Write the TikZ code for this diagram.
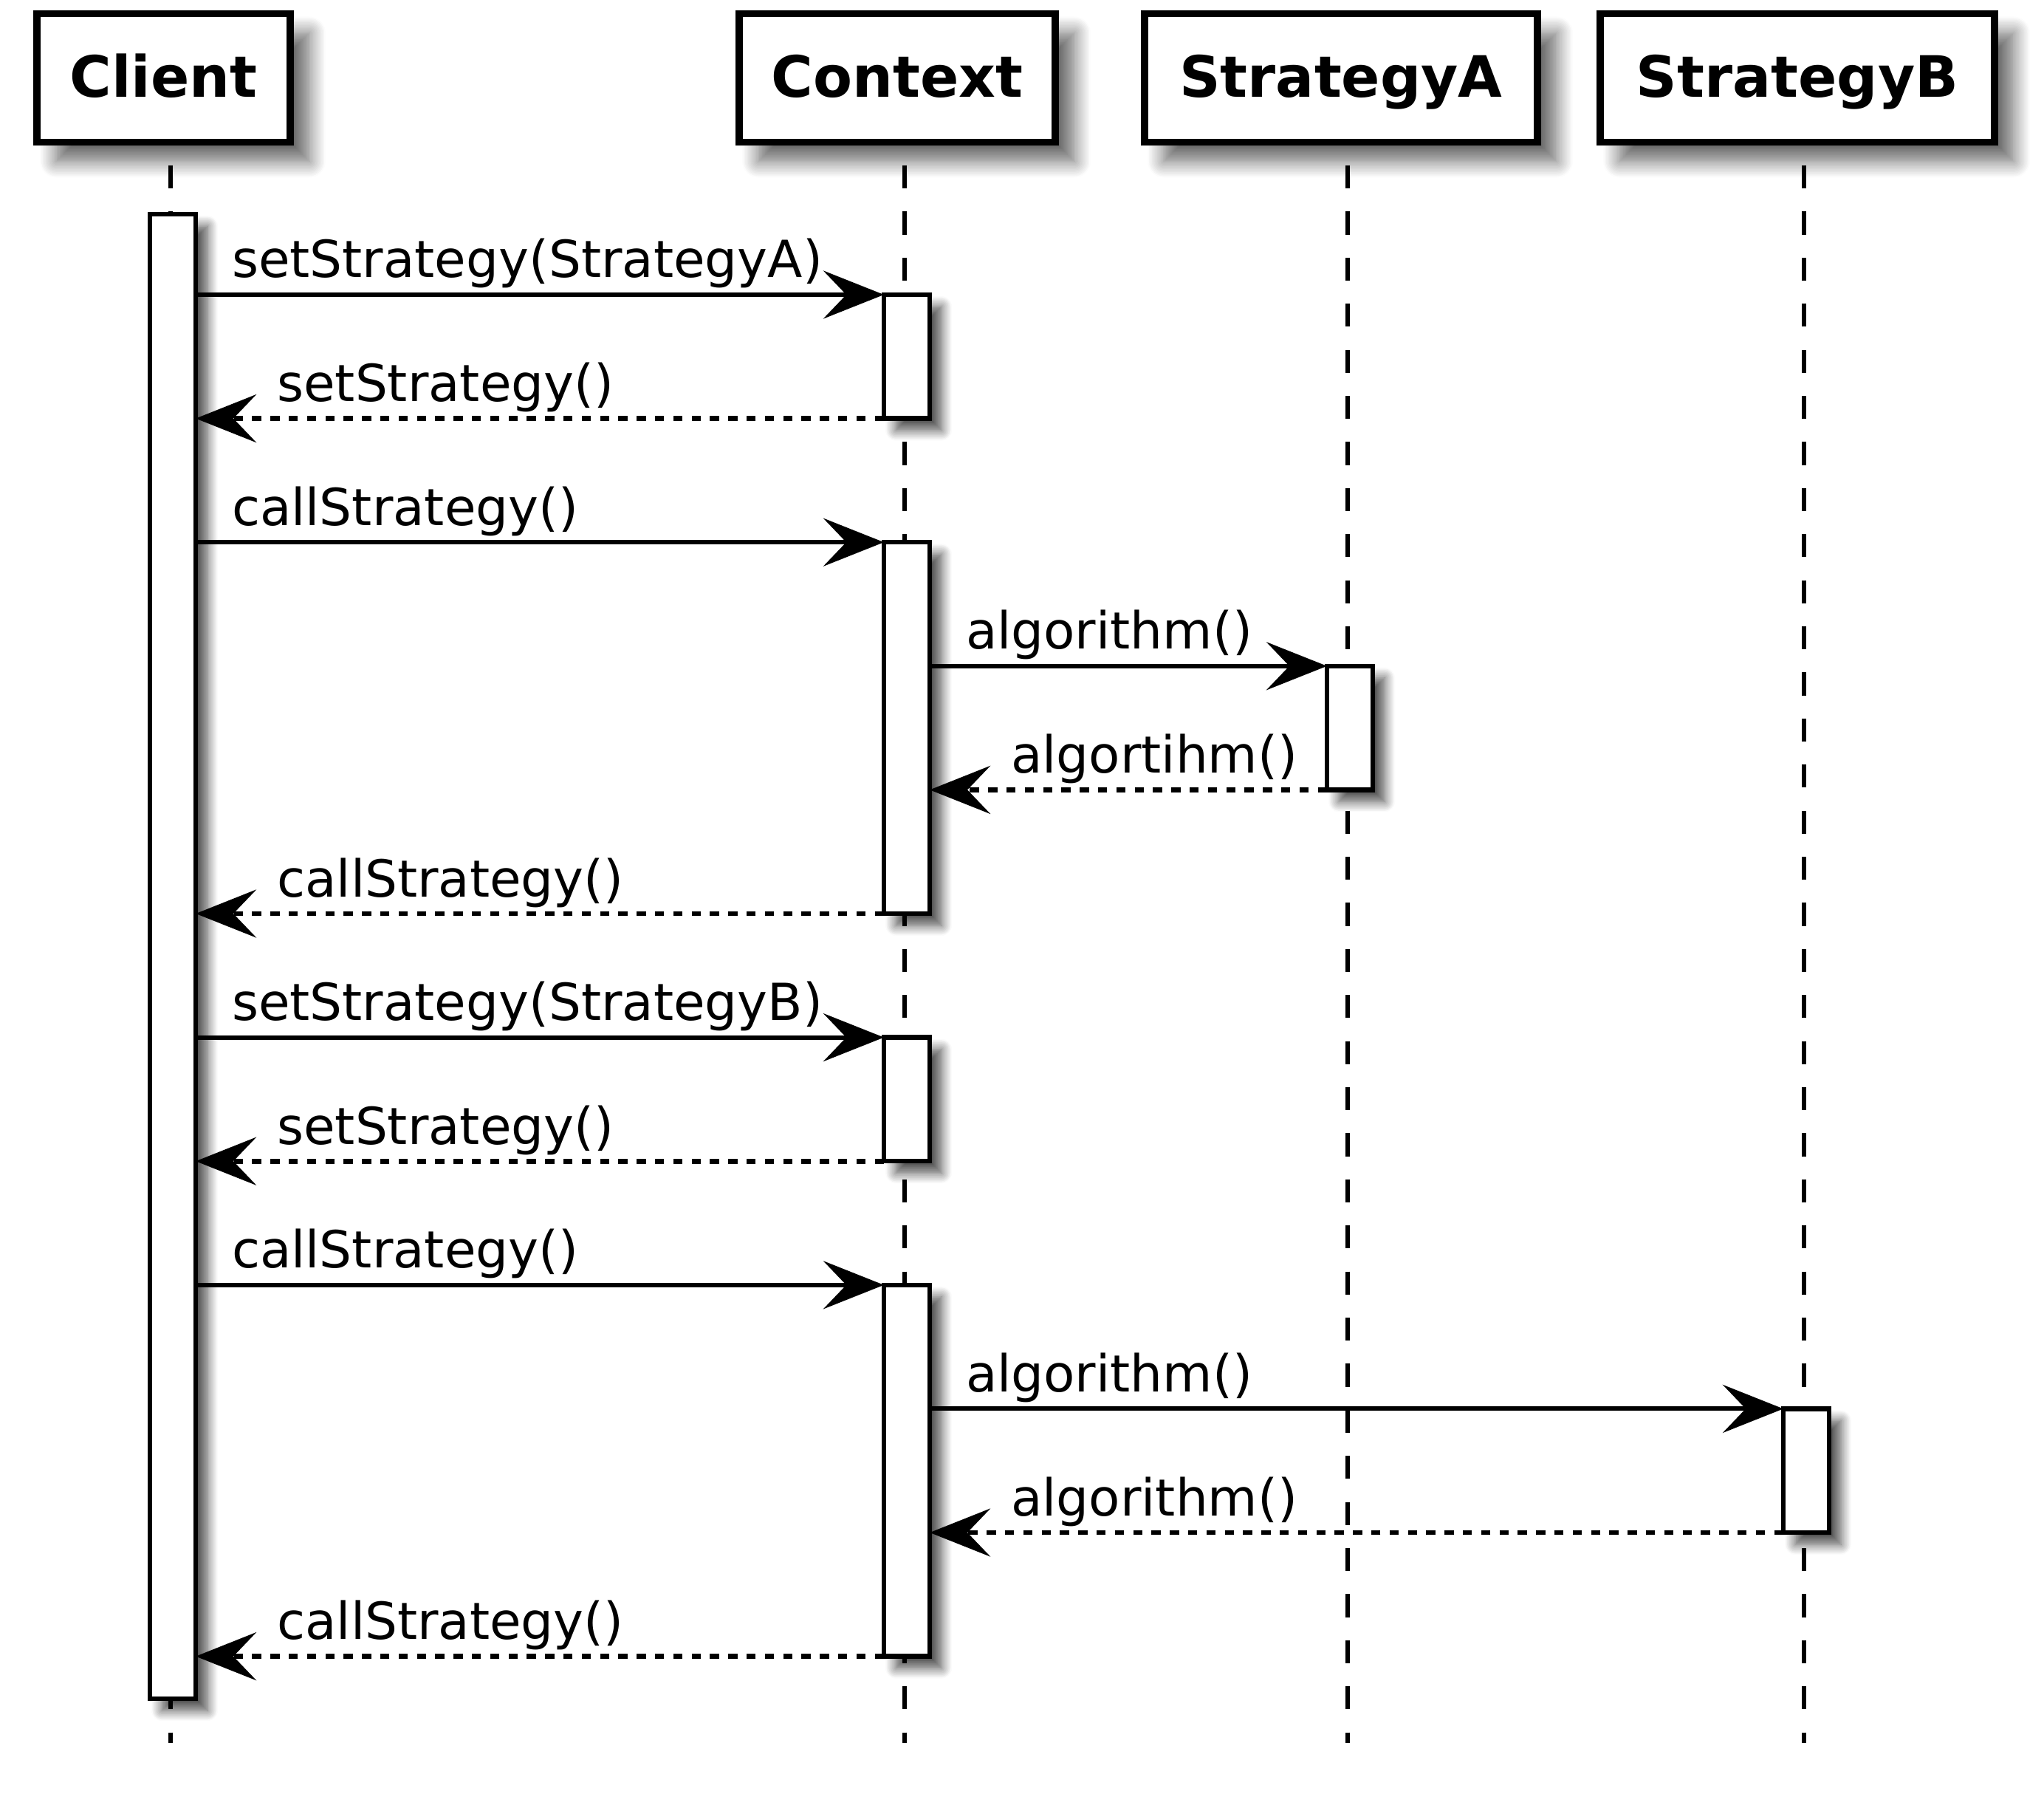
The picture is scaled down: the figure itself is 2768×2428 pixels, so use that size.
\documentclass[tikz,border=0pt]{standalone}
\usepackage{fontspec}
\setmainfont{DejaVu Sans}
\usetikzlibrary{arrows.meta,shadows.blur}

\begin{document}
\begin{tikzpicture}[
    x=0.25pt, y=-0.25pt,
    >={Stealth[length=20.5pt, width=16.25pt, inset=7.75pt]},
    font=\fontsize{17.3}{20}\selectfont,
    part/.style={
        draw,
        line width=2.3pt,
        fill=white,
        minimum height=43.5pt,
        inner sep=0pt,
        outer sep=0pt,
        text height=13.25pt,
        text depth=0pt,
        font=\fontsize{19.3}{22}\selectfont\bfseries,
        blur shadow={shadow xshift=6.5pt, shadow yshift=-6.5pt, shadow blur radius=5.5pt, shadow opacity=60, shadow blur steps=12}
    },
    act/.style={
        draw,
        line width=1.6pt,
        fill=white,
        minimum width=15.5pt,
        inner sep=0pt,
        outer sep=0pt,
        blur shadow={shadow xshift=4pt, shadow yshift=-4pt, shadow blur radius=3.5pt, shadow opacity=70, shadow blur steps=10}
    },
    lifeline/.style={line width=1.6pt, dash pattern=on 7.8pt off 7.8pt},
    call/.style={->, line width=1.5pt},
    reply/.style={->, line width=1.65pt, dash pattern=on 3.1pt off 3.1pt},
    lbl/.style={anchor=base west, inner sep=0pt, yshift=5.75pt}
]
\useasboundingbox (0,0) rectangle (2768,2428);

% participants
\node[part, minimum width=85.75pt] (client)  at (221.5,105.5) {Client};
\node[part, minimum width=107pt]   (context) at (1215,105.5)  {Context};
\node[part, minimum width=133pt]   (stratA)  at (1816,105.5)  {StrategyA};
\node[part, minimum width=133.5pt] (stratB)  at (2434,105.5)  {StrategyB};

% lifelines
\coordinate (clientTop)  at (231,224);  \coordinate (clientEnd)  at (231,2360);
\coordinate (contextTop) at (1225,224); \coordinate (contextEnd) at (1225,2360);
\coordinate (stratATop)  at (1825,224); \coordinate (stratAEnd)  at (1825,2360);
\coordinate (stratBTop)  at (2443,224); \coordinate (stratBEnd)  at (2443,2360);
\draw[lifeline] (clientTop)  -- (clientEnd);
\draw[lifeline] (contextTop) -- (contextEnd);
\draw[lifeline] (stratATop)  -- (stratAEnd);
\draw[lifeline] (stratBTop)  -- (stratBEnd);

% activations
\node[act, minimum height=502.5pt] (actClient) at (234,1295)    {};
\node[act, minimum height=41.9pt]  (ctxSet1)   at (1228,482.8)  {};
\node[act, minimum height=125.7pt] (ctxCall1)  at (1228,985.6)  {};
\node[act, minimum height=41.9pt]  (algoA)     at (1828,985.6)  {};
\node[act, minimum height=41.9pt]  (ctxSet2)   at (1228,1488.4) {};
\node[act, minimum height=125.7pt] (ctxCall2)  at (1228,1991.2) {};
\node[act, minimum height=41.9pt]  (algoB)     at (2446,1991.2) {};

% messages, first round (StrategyA)
\draw[call] (actClient.east |- ctxSet1.north) -- (ctxSet1.north west)
    node[lbl, pos=0, xshift=11.5pt] {setStrategy(StrategyA)};
\draw[reply] (ctxSet1.south west) -- (ctxSet1.south west -| actClient.east)
    node[lbl, pos=1, xshift=26.75pt] {setStrategy()};
\draw[call] (actClient.east |- ctxCall1.north) -- (ctxCall1.north west)
    node[lbl, pos=0, xshift=11.5pt] {callStrategy()};
\draw[call] (ctxCall1.east |- algoA.north) -- (algoA.north west)
    node[lbl, pos=0, xshift=11.5pt] {algorithm()};
\draw[reply] (algoA.south west) -- (algoA.south west -| ctxCall1.east)
    node[lbl, pos=1, xshift=26.75pt] {algortihm()};
\draw[reply] (ctxCall1.south west) -- (ctxCall1.south west -| actClient.east)
    node[lbl, pos=1, xshift=26.75pt] {callStrategy()};

% messages, second round (StrategyB)
\draw[call] (actClient.east |- ctxSet2.north) -- (ctxSet2.north west)
    node[lbl, pos=0, xshift=11.5pt] {setStrategy(StrategyB)};
\draw[reply] (ctxSet2.south west) -- (ctxSet2.south west -| actClient.east)
    node[lbl, pos=1, xshift=26.75pt] {setStrategy()};
\draw[call] (actClient.east |- ctxCall2.north) -- (ctxCall2.north west)
    node[lbl, pos=0, xshift=11.5pt] {callStrategy()};
\draw[call] (ctxCall2.east |- algoB.north) -- (algoB.north west)
    node[lbl, pos=0, xshift=11.5pt] {algorithm()};
\draw[reply] (algoB.south west) -- (algoB.south west -| ctxCall2.east)
    node[lbl, pos=1, xshift=26.75pt] {algorithm()};
\draw[reply] (ctxCall2.south west) -- (ctxCall2.south west -| actClient.east)
    node[lbl, pos=1, xshift=26.75pt] {callStrategy()};

\end{tikzpicture}
\end{document}
